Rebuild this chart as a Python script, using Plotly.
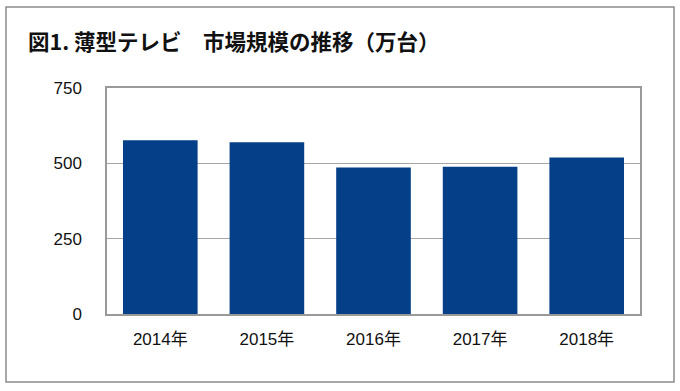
import plotly.graph_objects as go

years = ["2014年", "2015年", "2016年", "2017年", "2018年"]
values = [577, 570, 486, 489, 519]
y_ticks = [0, 250, 500, 750]
title_text = "図1. 薄型テレビ　市場規模の推移（万台）"

W, H = 680, 391
L, R, T, B = 107, 40, 88, 77
pw, ph = W - L - R, H - T - B

def px_x(x):
    return (x - L) / pw

def px_y(y):
    return (H - B - y) / ph

font_fam = "Liberation Sans, Arial, Noto Sans CJK JP, sans-serif"

fig = go.Figure(go.Bar(x=years, y=values, marker=dict(color="#053f87", line=dict(width=0))))

fig.update_layout(
    width=W, height=H,
    margin=dict(l=L, r=R, t=T, b=B),
    paper_bgcolor="white", plot_bgcolor="white",
    bargap=0.3,
    showlegend=False,
    font=dict(family=font_fam, size=17, color="#111111"),
    xaxis=dict(showgrid=False, showline=True, mirror=True, linecolor="#999999", linewidth=1.5,
               ticks="", tickfont=dict(size=17), ticklabelstandoff=9),
    yaxis=dict(range=[0, 750], tickvals=y_ticks, showgrid=True, gridcolor="#a6a6a6", gridwidth=1.2,
               showline=True, mirror=True, linecolor="#999999", linewidth=1.5,
               ticks="", tickfont=dict(size=17), ticklabelstandoff=20, zeroline=False),
    shapes=[dict(type="rect", xref="paper", yref="paper",
                 x0=px_x(6), x1=px_x(674), y0=px_y(382), y1=px_y(7),
                 line=dict(color="#8c8c8c", width=1.5), fillcolor="rgba(0,0,0,0)", layer="below")],
    annotations=[dict(text="<b>" + title_text + "</b>", xref="paper", yref="paper",
                      x=px_x(26), y=px_y(40.5), xanchor="left", yanchor="middle",
                      showarrow=False,
                      font=dict(family="Noto Sans CJK JP, sans-serif", size=21.5, color="#111111"))],
)

fig.write_html("out.html", config={"displayModeBar": False},
               post_script="document.body.style.margin='0';document.body.style.padding='0';")
